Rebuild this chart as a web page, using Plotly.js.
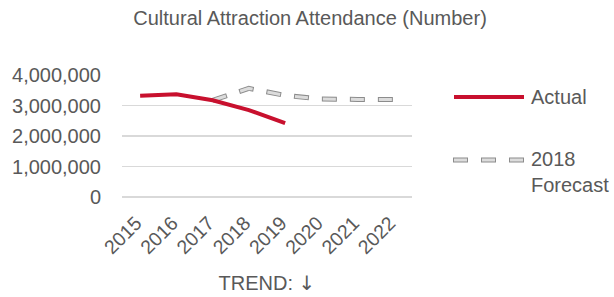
<!DOCTYPE html>
<html>
<head>
<meta charset="utf-8">
<script src="https://cdn.plot.ly/plotly-3.0.1.min.js"></script>
<style>html,body{margin:0;padding:0;background:#fff;}#chart{width:614px;height:297px;}</style>
</head>
<body>
<div id="chart"></div>
<script>
var years = ["2015","2016","2017","2018","2019","2020","2021","2022"];
var actual = [3320000, 3370000, 3170000, 2850000, 2420000, null, null, null];
var forecast = [null, null, 3170000, 3560000, 3330000, 3210000, 3200000, 3200000];
var yTicks = [0, 1000000, 2000000, 3000000, 4000000];
var yTickText = ["0", "1,000,000", "2,000,000", "3,000,000", "4,000,000"];

var txt = "#595959";
var font = "Liberation Sans, DejaVu Sans, Arial, sans-serif";

var traces = [
  {x: years, y: forecast, type: "scatter", mode: "lines", connectgaps: false,
   line: {color: "#8c8c8c", width: 5, dash: "15px,13px"}, hoverinfo: "skip", showlegend: false},
  {x: years, y: forecast, type: "scatter", mode: "lines", connectgaps: false,
   line: {color: "#dcdcdc", width: 3, dash: "0px,1px,13px,14px"}, hoverinfo: "skip", showlegend: false},
  {x: years, y: actual, type: "scatter", mode: "lines", connectgaps: false,
   line: {color: "#c8102e", width: 4}, showlegend: false}
];

var L = 122, R = 412, T = 75, B = 197;
function px(x){ return (x - L) / (R - L); }
function py(y){ return (B - y) / (B - T); }

var layout = {
  width: 614, height: 297,
  margin: {l: L, r: 614 - R, t: T, b: 297 - B, pad: 0},
  paper_bgcolor: "#fff", plot_bgcolor: "#fff",
  font: {family: font, color: txt, size: 20},
  title: {text: "Cultural Attraction Attendance (Number)", font: {size: 20, color: txt, family: font},
          x: 0.505, xanchor: "center", y: 0.938, yanchor: "middle"},
  xaxis: {type: "category", range: [-0.5, 7.5], showgrid: false, zeroline: false, showline: false,
          ticks: "", tickangle: -45, ticklabelstandoff: 10, ticklabelshift: -4, tickfont: {size: 19.5, color: txt}, automargin: false,
          title: {text: "TREND: <span style=\"font-family:'DejaVu Sans'\">\u2193\uFE0E</span>", font: {size: 20, color: txt, family: font}, standoff: 18}},
  yaxis: {range: [0, 4000000], tickvals: yTicks, ticktext: yTickText, showgrid: true,
          gridcolor: "#d9d9d9", gridwidth: 1.5, zeroline: true, zerolinecolor: "#d9d9d9", zerolinewidth: 1.5,
          showline: false, ticks: "", ticklabelstandoff: 20, tickfont: {size: 20, color: txt}, automargin: false},
  showlegend: false,
  shapes: [
    {type: "line", xref: "paper", yref: "paper", x0: px(454), x1: px(524), y0: py(97), y1: py(97),
     line: {color: "#c8102e", width: 4}},
    {type: "line", xref: "paper", yref: "paper", x0: px(453), x1: px(525), y0: py(160), y1: py(160),
     line: {color: "#8c8c8c", width: 5, dash: "15px,13px"}},
    {type: "line", xref: "paper", yref: "paper", x0: px(453), x1: px(525), y0: py(160), y1: py(160),
     line: {color: "#dcdcdc", width: 3, dash: "0px,1px,13px,14px"}}
  ],
  annotations: [
    {text: "Actual", xref: "paper", yref: "paper", x: px(529), y: py(97), xanchor: "left", yanchor: "middle",
     showarrow: false, font: {size: 20, color: txt}},
    {text: "2018<br>Forecast", xref: "paper", yref: "paper", x: px(529), y: py(172), xanchor: "left", yanchor: "middle",
     showarrow: false, align: "left", font: {size: 20, color: txt}}
  ]
};

Plotly.newPlot("chart", traces, layout, {staticPlot: true, displayModeBar: false});
</script>
</body>
</html>
